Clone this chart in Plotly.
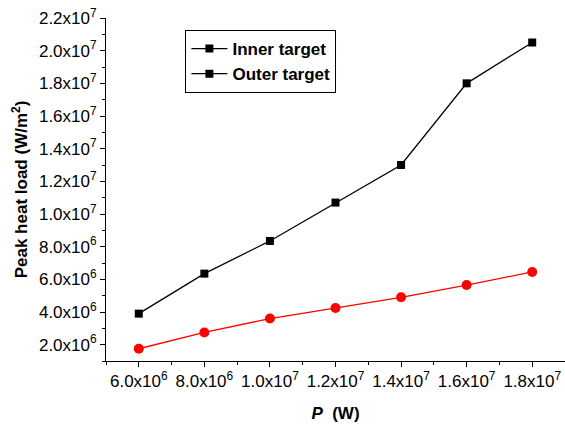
import plotly.graph_objects as go

# Heating power (W)
power = [6.0e6, 8.0e6, 1.0e7, 1.2e7, 1.4e7, 1.6e7, 1.8e7]
# Peak heat load (W/m^2) on each divertor target
inner_target = [3.9e6, 6.35e6, 8.35e6, 1.07e7, 1.30e7, 1.80e7, 2.05e7]
outer_target = [1.75e6, 2.75e6, 3.6e6, 4.25e6, 4.9e6, 5.65e6, 6.45e6]

x_tickvals = [6.0e6, 8.0e6, 1.0e7, 1.2e7, 1.4e7, 1.6e7, 1.8e7]
x_ticktext = ["6.0x10<sup>6</sup>", "8.0x10<sup>6</sup>", "1.0x10<sup>7</sup>",
              "1.2x10<sup>7</sup>", "1.4x10<sup>7</sup>", "1.6x10<sup>7</sup>",
              "1.8x10<sup>7</sup>"]
y_tickvals = [2.0e6, 4.0e6, 6.0e6, 8.0e6, 1.0e7, 1.2e7, 1.4e7, 1.6e7, 1.8e7, 2.0e7, 2.2e7]
y_ticktext = ["2.0x10<sup>6</sup>", "4.0x10<sup>6</sup>", "6.0x10<sup>6</sup>",
              "8.0x10<sup>6</sup>", "1.0x10<sup>7</sup>", "1.2x10<sup>7</sup>",
              "1.4x10<sup>7</sup>", "1.6x10<sup>7</sup>", "1.8x10<sup>7</sup>",
              "2.0x10<sup>7</sup>", "2.2x10<sup>7</sup>"]

FONT = "Liberation Sans, Arial, sans-serif"

fig = go.Figure()
fig.add_trace(go.Scatter(
    x=power, y=inner_target, mode="lines+markers", showlegend=False,
    line=dict(color="black", width=1.3),
    marker=dict(symbol="square", size=8, color="black"),
))
fig.add_trace(go.Scatter(
    x=power, y=outer_target, mode="lines+markers", showlegend=False,
    line=dict(color="#ff0000", width=1.3),
    marker=dict(symbol="circle", size=10, color="#ff0000"),
))
# Legend entries (both drawn with black square symbols)
for name in ["Inner target", "Outer target"]:
    fig.add_trace(go.Scatter(
        x=[None], y=[None], mode="lines+markers", name=name,
        line=dict(color="black", width=1.3),
        marker=dict(symbol="square", size=8, color="black"),
    ))

fig.update_layout(
    width=565, height=427,
    margin=dict(l=106, r=0, t=18, b=66),
    paper_bgcolor="white", plot_bgcolor="white",
    font=dict(family=FONT, size=17, color="black"),
    legend=dict(
        x=0.173, y=0.965, xanchor="left", yanchor="top",
        bordercolor="black", borderwidth=1, bgcolor="white",
        font=dict(family=FONT, size=17, color="black", weight="bold"),
        tracegroupgap=0, itemwidth=36,
    ),
    xaxis=dict(
        range=[5.0e6, 1.9e7], showgrid=False, zeroline=False,
        showline=True, linecolor="black", linewidth=1,
        ticks="outside", ticklen=5, tickwidth=1, tickcolor="black",
        tickvals=x_tickvals, ticktext=x_ticktext,
        tickfont=dict(family=FONT, size=17),
        minor=dict(dtick=1.0e6, tick0=0, ticks="outside", ticklen=3,
                   tickcolor="black", tickwidth=1),
        title=dict(text="<b><i>P</i>  (W)</b>", font=dict(family=FONT, size=17),
                   standoff=16),
    ),
    yaxis=dict(
        range=[1.0e6, 2.2e7], showgrid=False, zeroline=False,
        showline=True, linecolor="black", linewidth=1,
        ticks="outside", ticklen=5, tickwidth=1, tickcolor="black",
        tickvals=y_tickvals, ticktext=y_ticktext,
        tickfont=dict(family=FONT, size=17),
        minor=dict(dtick=1.0e6, tick0=0, ticks="outside", ticklen=3,
                   tickcolor="black", tickwidth=1),
        title=dict(text="<b>Peak heat load (W/m<sup>2</sup>)</b>",
                   font=dict(family=FONT, size=17), standoff=6),
    ),
)

fig.write_html("out.html")
